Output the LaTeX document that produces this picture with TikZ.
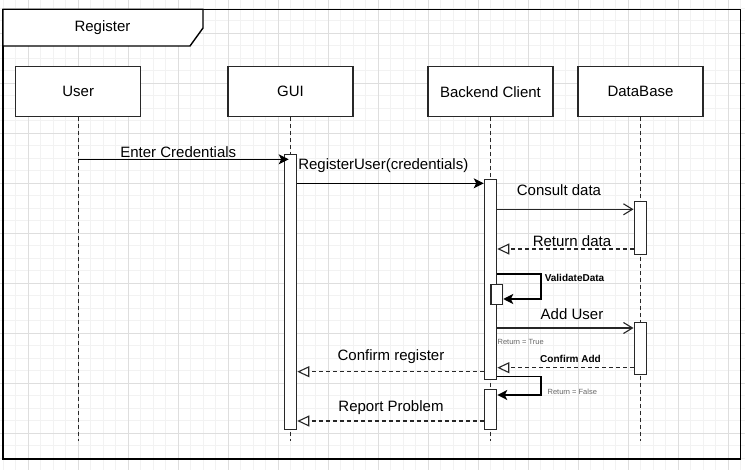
\documentclass[tikz,border=0pt]{standalone}
\usepackage{fontspec}
\setmainfont{Liberation Sans}
\usetikzlibrary{calc, arrows.meta, positioning}
\definecolor{gridminor}{RGB}{242,242,242}
\definecolor{gridmajor}{RGB}{222,222,222}
\definecolor{boxline}{RGB}{40,40,40}
\tikzset{
	lifebox/.style={draw=boxline, line width=1.2pt, fill=white, minimum width=125, minimum height=50, inner sep=0},
	actbox/.style={draw=boxline, line width=1.2pt, fill=white, minimum width=12.4, inner sep=0, anchor=north},
	lifeline/.style={boxline, line width=1.2pt, dash pattern=on 3.5pt off 3.5pt},
	synch/.style={black, line width=1.1pt, -{Stealth[length=10pt,width=10pt,inset=2.5pt]}},
	callmsg/.style={black!85, line width=1.1pt, -{Straight Barb[length=9pt,width=11pt]}},
	replymsg/.style={black!85, line width=1.1pt, dash pattern=on 4pt off 3pt, -{Triangle[open,length=12pt,width=11pt,fill=white]}},
	msglabel/.style={inner sep=0, font=\fontsize{15}{18}\selectfont},
	smalllabel/.style={inner sep=0, text=black!60, font=\fontsize{7.5}{9}\selectfont},
	boldlabel/.style={inner sep=0, font=\fontsize{10}{12}\selectfont\bfseries},
}

\begin{document}
\begin{tikzpicture}[x=1pt, y=-1pt]
			\useasboundingbox (0,0) rectangle (745,470);
			%Background grid
			\foreach \gx in {0,...,59} {
				\draw[gridminor, line width=0.8pt] ({3.3+12.5*\gx},0) -- ({3.3+12.5*\gx},470);
			}
			\foreach \gy in {0,...,37} {
				\draw[gridminor, line width=0.8pt] (0,{8.3+12.5*\gy}) -- (745,{8.3+12.5*\gy});
			}
			\foreach \gx in {0,...,14} {
				\draw[gridmajor, line width=0.8pt] ({28.3+50*\gx},0) -- ({28.3+50*\gx},470);
			}
			\foreach \gy in {0,...,8} {
				\draw[gridmajor, line width=0.8pt] (0,{33.3+50*\gy}) -- (745,{33.3+50*\gy});
			}
			%Outer frame with the tab
			\coordinate (frameNW) at (3,9.3);
			\coordinate (frameSE) at (740.3,459);
			\draw[black, line width=1.4pt] (frameNW) rectangle (frameSE);
			\draw[black, line width=1.4pt, fill=white] (frameNW) -- (203,9.3) -- (203,28) -- (190,46) -- (3,46) -- cycle;
			\node [msglabel] (title) at (102.5,28) {Register};
			%Lifeline heads
			\node [lifebox] (user) at (78.2,91.7) {\fontsize{15}{18}\selectfont User};
			\node [lifebox] (gui) at (290.5,91.7) {\fontsize{15}{18}\selectfont GUI};
			\node [lifebox] (backend) at (490.5,91.7) {\fontsize{15}{18}\selectfont Backend Client};
			\node [lifebox] (database) at (640.5,91.7) {\fontsize{15}{18}\selectfont DataBase};
			%Lifelines
			\coordinate (userEnd) at (78.2,441);
			\coordinate (guiEnd) at (290.5,441);
			\coordinate (backendEnd) at (490.5,441);
			\coordinate (databaseEnd) at (640.5,441);
			\draw[lifeline] (user) -- (userEnd);
			\draw[lifeline] (gui) -- (guiEnd);
			\draw[lifeline] (backend) -- (backendEnd);
			\draw[lifeline] (database) -- (databaseEnd);
			%Activation boxes
			\node [actbox, minimum height=275.3] (guiAct) at (290.5,154) {};
			\node [actbox, minimum height=200] (backendAct1) at (490.5,179.3) {};
			\node [actbox, minimum height=40] (backendAct2) at (490.5,389.3) {};
			\node [actbox, minimum height=20, minimum width=11.7] (validateAct) at (496.8,284) {};
			\node [actbox, minimum height=53] (databaseAct1) at (640.3,201) {};
			\node [actbox, minimum height=52.3] (databaseAct2) at (640.3,321.7) {};
			%Messages
			\coordinate (msg1) at (78.2,159.3);
			\draw[synch, shorten >=-5pt] (msg1) -- (msg1 -| guiAct.west);
			\node [msglabel] (msg1Label) at (178.3,152) {Enter Credentials};
			\coordinate (msg2) at (guiAct.east |- 0,183.3);
			\draw[synch] (msg2) -- (msg2 -| backendAct1.west);
			\node [msglabel] (msg2Label) at (383.3,165.5) {RegisterUser(credentials)};
			\coordinate (msg3) at (backendAct1.east |- 0,209.3);
			\draw[callmsg] (msg3) -- (msg3 -| databaseAct1.west);
			\node [msglabel] (msg3Label) at (559,190) {Consult data};
			\coordinate (msg4) at (databaseAct1.west |- 0,249);
			\draw[replymsg] (msg4) -- (msg4 -| backendAct1.east);
			\node [msglabel] (msg4Label) at (572,241) {Return data};
			%Self call ValidateData
			\coordinate (msg5) at (backendAct1.east |- 0,274);
			\draw[synch] (msg5) -- ++(43.7,0) |- (validateAct.east |- 0,299);
			\node [boldlabel] (msg5Label) at (574.5,278) {ValidateData};
			\coordinate (msg6) at (backendAct1.east |- 0,328);
			\draw[callmsg] (msg6) -- (msg6 -| databaseAct2.west);
			\node [msglabel] (msg6Label) at (572,314) {Add User};
			\node [smalllabel] (trueLabel) at (520.7,341.7) {Return = True};
			\coordinate (msg7) at (databaseAct2.west |- 0,367.7);
			\draw[replymsg] (msg7) -- (msg7 -| backendAct1.east);
			\node [boldlabel] (msg7Label) at (570.5,358.5) {Confirm Add};
			\coordinate (msg8) at (backendAct1.west |- 0,371.7);
			\draw[replymsg] (msg8) -- (msg8 -| guiAct.east);
			\node [msglabel] (msg8Label) at (391,357) {Confirm register};
			%Self call Return = False
			\coordinate (msg9) at (backendAct1.east |- 0,376.7);
			\draw[synch] (msg9) -- ++(43.7,0) |- (backendAct2.east |- 0,395);
			\node [smalllabel] (falseLabel) at (572.3,391.7) {Return = False};
			\coordinate (msg10) at (backendAct2.west |- 0,421);
			\draw[replymsg] (msg10) -- (msg10 -| guiAct.east);
			\node [msglabel] (msg10Label) at (391,408) {Report Problem};
\end{tikzpicture}
\end{document}
